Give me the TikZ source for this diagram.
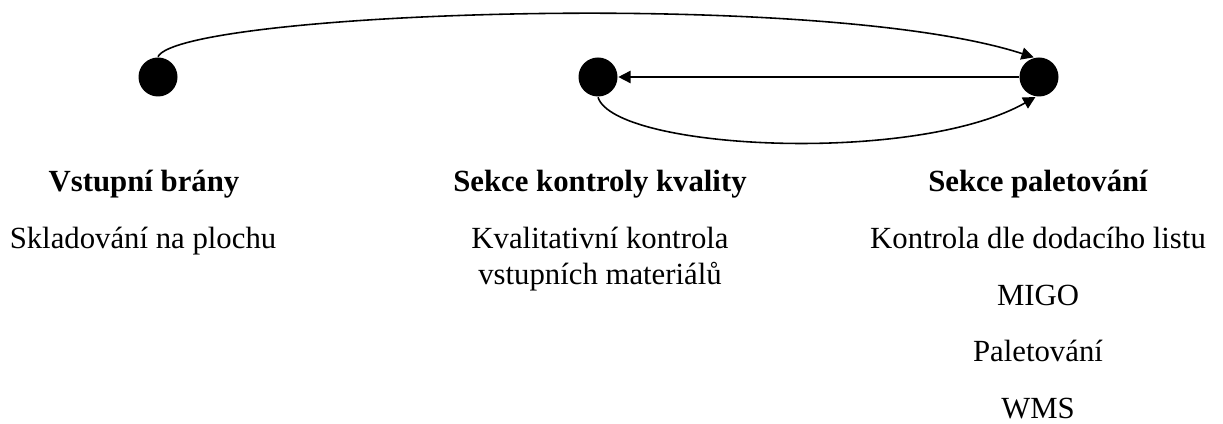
\documentclass[tikz,border=0pt]{standalone}
\usepackage{fontspec}
\setmainfont{Liberation Serif}
\usetikzlibrary{arrows.meta}

\begin{document}
\begin{tikzpicture}[>={Triangle[length=7pt,width=7pt]}, line width=0.9pt,
    station/.style={circle, fill, inner sep=0pt, minimum size=0.78cm},
    entry/.style={anchor=base, inner sep=0pt, font=\fontsize{17.5}{21}\selectfont},
    heading/.style={entry, font=\fontsize{17.5}{21}\selectfont\bfseries}]
    \useasboundingbox (0,0) rectangle (24.46,8.46);

    \node[station] (gate) at (3.16,6.92) {};
    \node[station] (qc) at (11.96,6.92) {};
    \node[station] (pallet) at (20.78,6.92) {};

    \draw[->] (gate.north) .. controls (3.60,8.22) and (16.40,8.70) .. (pallet.105);
    \draw[->] (pallet) -- (qc);
    \draw[->] (qc.south) .. controls (12.30,5.46) and (18.32,5.16) .. (pallet.260);

    \node[heading] (gatehead) at (2.88,4.62) {Vstupní brány};
    \node[entry] (gatestore) at (2.86,3.48) {Skladování na plochu};

    \node[heading] (qchead) at (12.0,4.62) {Sekce kontroly kvality};
    \node[entry] (qccheck) at (12.0,3.48) {Kvalitativní kontrola};
    \node[entry] (qcinput) at (12.0,2.772) {vstupních materiálů};

    \node[heading] (pallethead) at (20.76,4.62) {Sekce paletování};
    \node[entry] (palletlist) at (20.76,3.48) {Kontrola dle dodacího listu};
    \node[entry] (palletmigo) at (20.76,2.35) {MIGO};
    \node[entry] (palletwork) at (20.76,1.22) {Paletování};
    \node[entry] (palletwms) at (20.76,0.10) {WMS};
\end{tikzpicture}
\end{document}
